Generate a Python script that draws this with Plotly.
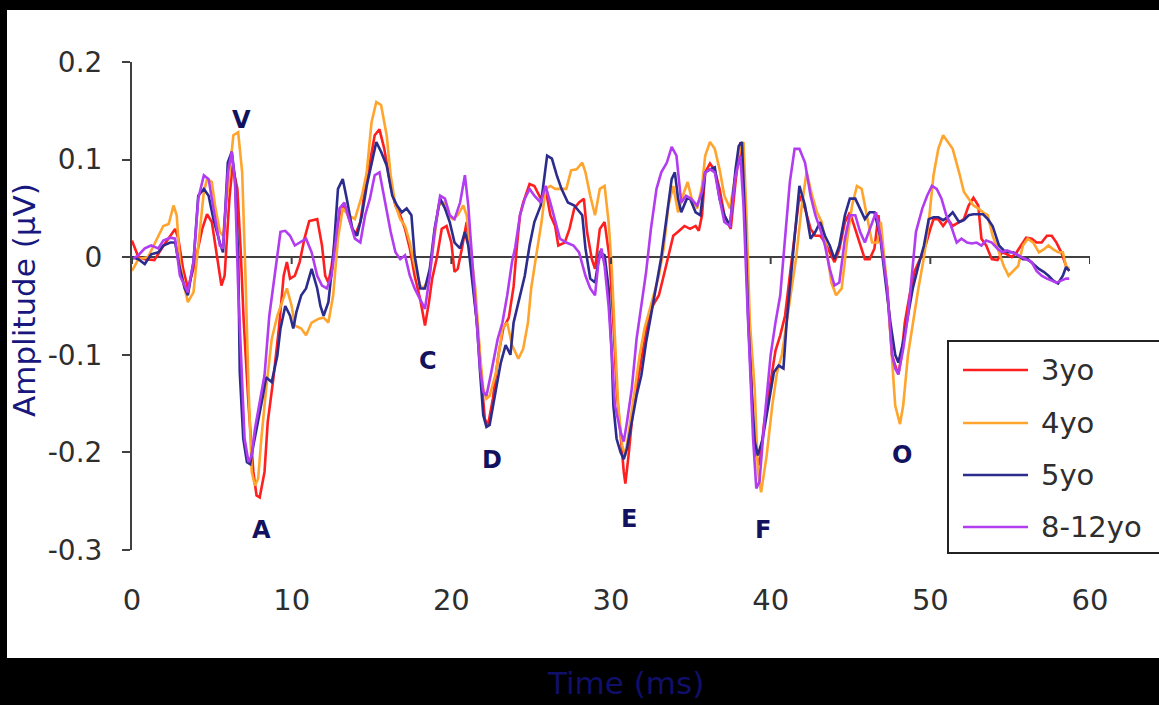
import plotly.graph_objects as go

# ---------------- data ----------------
series_names = ["3yo", "4yo", "5yo", "8-12yo"]
series_colors = ["#ff1f1f", "#ffa42c", "#2c2c8e", "#b23cef"]

t_3yo = [0, 0.4, 0.8, 1.4, 1.9, 2.3, 2.7, 2.9, 3.2, 3.5, 3.9, 4.4, 4.7, 5.0, 5.3, 5.6, 5.8, 6.1, 6.3, 6.6,
         6.8, 7.0, 7.3, 7.6, 7.8, 8.0, 8.3, 8.5, 8.85, 9.2, 9.5, 9.7, 9.9, 10.2, 10.5, 10.8, 11.1, 11.6, 11.9, 12.1,
         12.3, 12.5, 12.7, 13.0, 13.3, 13.65, 13.96, 14.3, 14.6, 14.9, 15.2, 15.5, 15.8, 16.2, 16.5, 16.8, 17.1, 17.4, 17.7, 18.05,
         18.35, 18.6, 18.8, 19.1, 19.4, 19.7, 20.0, 20.2, 20.4, 20.65, 20.96, 21.2, 21.4, 21.7, 21.9, 22.1, 22.3, 22.6, 22.95, 23.25,
         23.6, 23.9, 24.1, 24.3, 24.5, 24.9, 25.2, 25.6, 25.9, 26.2, 26.5, 26.7, 27.1, 27.4, 27.7, 28.0, 28.3, 28.5, 28.8, 29.0,
         29.3, 29.6, 29.9, 30.15, 30.35, 30.6, 30.8, 30.9, 31.1, 31.4, 31.7, 32.0, 32.3, 32.6, 33.0, 33.3, 33.6, 33.9, 34.2, 34.6,
         34.95, 35.3, 35.5, 35.7, 35.9, 36.2, 36.5, 36.8, 37.1, 37.5, 37.8, 38.1, 38.3, 38.5, 38.7, 38.9, 39.1, 39.3, 39.6, 40.0,
         40.3, 40.6, 40.9, 41.2, 41.5, 41.8, 42.15, 42.5, 42.8, 43.1, 43.4, 43.7, 44.0, 44.3, 44.65, 44.96, 45.3, 45.6, 45.9, 46.2,
         46.5, 46.75, 46.9, 47.3, 47.6, 47.8, 48.0, 48.2, 48.4, 48.7, 49.0, 49.4, 49.7, 50.0, 50.2, 50.5, 50.8, 51.1, 51.4, 51.8,
         52.1, 52.4, 52.7, 53.0, 53.2, 53.5, 53.85, 54.2, 54.5, 54.8, 55.1, 55.4, 55.7, 56.0, 56.35, 56.65, 56.97, 57.3, 57.6, 57.9,
         58.2, 58.5, 58.7]
amp_3yo = [0.017, 0.0, -0.002, -0.003, 0.01, 0.02, 0.029, 0.019, -0.012, -0.032, -0.009, 0.029, 0.044, 0.036, 0.002, -0.029, -0.019, 0.06, 0.094, 0.07,
           0.009, -0.067, -0.152, -0.22, -0.244, -0.246, -0.22, -0.169, -0.125, -0.073, -0.019, -0.005, -0.022, -0.019, -0.005, 0.019, 0.037, 0.039, 0.012, -0.019,
           -0.026, -0.009, 0.015, 0.043, 0.053, 0.036, 0.022, 0.036, 0.07, 0.097, 0.125, 0.131, 0.111, 0.073, 0.053, 0.043, 0.029, 0.009, -0.019, -0.043,
           -0.07, -0.046, -0.022, 0.0, 0.029, 0.032, 0.015, -0.015, -0.012, 0.008, 0.036, 0.002, -0.032, -0.084, -0.128, -0.166, -0.172, -0.145, -0.1, -0.073,
           -0.062, -0.03, 0.01, 0.043, 0.056, 0.075, 0.073, 0.06, 0.07, 0.043, 0.032, 0.012, 0.015, 0.029, 0.05, 0.056, 0.06, 0.026, -0.002, -0.012,
           0.029, 0.036, 0.0, -0.067, -0.135, -0.186, -0.22, -0.232, -0.203, -0.152, -0.125, -0.094, -0.067, -0.05, -0.039, -0.019, 0.0, 0.022, 0.026, 0.032,
           0.029, 0.032, 0.027, 0.043, 0.087, 0.096, 0.089, 0.07, 0.043, 0.029, 0.077, 0.118, 0.07, -0.015, -0.1, -0.169, -0.203, -0.213, -0.169, -0.128,
           -0.096, -0.08, -0.06, -0.019, 0.022, 0.063, 0.05, 0.029, 0.022, 0.022, 0.015, 0.005, -0.005, 0.008, 0.036, 0.046, 0.029, 0.012, -0.002, -0.002,
           0.009, 0.043, 0.019, -0.032, -0.1, -0.111, -0.12, -0.1, -0.067, -0.039, -0.015, 0.0, 0.012, 0.029, 0.039, 0.039, 0.032, 0.039, 0.032, 0.036,
           0.039, 0.053, 0.061, 0.053, 0.019, 0.012, -0.002, -0.003, 0.005, 0.003, 0.0, 0.005, 0.012, 0.02, 0.019, 0.015, 0.015, 0.022, 0.022, 0.015,
           0.005, -0.009, -0.014]

t_4yo = [0, 0.4, 1.0, 1.65, 1.96, 2.3, 2.6, 2.8, 3.0, 3.3, 3.5, 3.85, 4.15, 4.5, 4.7, 5.0, 5.2, 5.5, 5.7, 6.0,
         6.35, 6.65, 6.9, 7.1, 7.3, 7.5, 7.7, 7.9, 8.1, 8.4, 8.75, 9.1, 9.4, 9.7, 10.0, 10.2, 10.6, 10.9, 11.25, 11.7,
         12.0, 12.3, 12.6, 12.9, 13.2, 13.55, 13.96, 14.4, 14.7, 15.0, 15.3, 15.6, 15.95, 16.2, 16.5, 16.8, 17.1, 17.4, 17.7, 18.05,
         18.25, 18.6, 18.9, 19.2, 19.5, 19.8, 20.1, 20.4, 20.75, 20.96, 21.2, 21.5, 21.8, 22.0, 22.2, 22.4, 22.8, 23.2, 23.5, 23.8,
         24.2, 24.5, 24.8, 25.0, 25.3, 25.65, 25.9, 26.2, 26.5, 26.8, 27.2, 27.5, 27.85, 28.2, 28.4, 28.7, 29.0, 29.3, 29.6, 29.85,
         30.05, 30.25, 30.45, 30.7, 30.9, 31.2, 31.5, 31.8, 32.1, 32.5, 33.0, 33.3, 33.6, 33.9, 34.2, 34.5, 34.8, 35.05, 35.4, 35.7,
         35.9, 36.2, 36.5, 36.8, 37.1, 37.45, 37.8, 38.1, 38.3, 38.5, 38.7, 39.0, 39.2, 39.4, 39.75, 40.1, 40.4, 40.7, 41.0, 41.3,
         41.6, 41.95, 42.25, 42.6, 42.9, 43.2, 43.5, 43.8, 44.1, 44.45, 44.8, 45.1, 45.4, 45.7, 46.0, 46.35, 46.7, 46.9, 47.3, 47.5,
         47.8, 48.1, 48.3, 48.6, 48.9, 49.25, 49.6, 49.9, 50.2, 50.5, 50.8, 51.1, 51.4, 51.8, 52.1, 52.4, 52.7, 53.0, 53.3, 53.6,
         53.9, 54.3, 54.6, 54.9, 55.2, 55.5, 55.8, 56.1, 56.45, 56.8, 57.1, 57.4, 57.7, 58.0, 58.3, 58.5, 58.7]
amp_4yo = [-0.014, -0.002, 0.0, 0.022, 0.032, 0.034, 0.053, 0.043, -0.005, -0.032, -0.046, -0.036, 0.009, 0.067, 0.08, 0.077, 0.053, 0.026, 0.022, 0.07,
           0.125, 0.128, 0.087, -0.015, -0.135, -0.22, -0.234, -0.227, -0.186, -0.135, -0.084, -0.06, -0.046, -0.032, -0.05, -0.07, -0.073, -0.08, -0.067, -0.063,
           -0.062, -0.067, -0.039, 0.019, 0.05, 0.043, 0.039, 0.063, 0.087, 0.138, 0.159, 0.156, 0.125, 0.084, 0.053, 0.039, 0.032, 0.015, -0.009, -0.029,
           -0.032, -0.022, 0.015, 0.053, 0.056, 0.043, 0.039, 0.043, 0.053, 0.043, 0.009, -0.032, -0.1, -0.135, -0.145, -0.142, -0.118, -0.073, -0.067, -0.09,
           -0.104, -0.094, -0.067, -0.032, 0.0, 0.036, 0.07, 0.073, 0.07, 0.07, 0.07, 0.089, 0.09, 0.097, 0.087, 0.063, 0.043, 0.07, 0.073, 0.036,
           -0.012, -0.084, -0.152, -0.193, -0.203, -0.169, -0.135, -0.1, -0.073, -0.05, -0.019, 0.009, 0.053, 0.073, 0.046, 0.063, 0.077, 0.06, 0.05, 0.073,
           0.104, 0.118, 0.111, 0.09, 0.063, 0.05, 0.084, 0.114, 0.118, 0.036, -0.067, -0.135, -0.22, -0.241, -0.203, -0.152, -0.118, -0.1, -0.067, -0.032,
           0.0, 0.053, 0.087, 0.063, 0.046, 0.036, 0.008, -0.026, -0.039, -0.032, 0.019, 0.053, 0.073, 0.07, 0.043, 0.015, 0.015, 0.036, -0.032, -0.084,
           -0.152, -0.171, -0.152, -0.1, -0.067, -0.032, 0.0, 0.036, 0.084, 0.111, 0.125, 0.118, 0.111, 0.087, 0.067, 0.06, 0.053, 0.05, 0.046, 0.043,
           0.022, 0.005, -0.009, -0.019, -0.014, -0.009, 0.012, 0.019, 0.015, 0.005, 0.008, 0.012, 0.008, 0.005, 0.005, -0.009, -0.012]

t_5yo = [0, 0.4, 0.8, 1.2, 1.65, 1.96, 2.4, 2.7, 3.0, 3.3, 3.5, 3.85, 4.15, 4.5, 4.8, 5.1, 5.5, 5.7, 6.0, 6.25,
         6.45, 6.65, 6.75, 6.97, 7.2, 7.4, 7.6, 7.9, 8.2, 8.4, 8.75, 9.1, 9.3, 9.6, 9.9, 10.1, 10.3, 10.6, 10.9, 11.25,
         11.6, 11.8, 12.0, 12.3, 12.6, 12.9, 13.2, 13.45, 13.8, 14.1, 14.4, 14.7, 15.0, 15.3, 15.6, 15.95, 16.3, 16.6, 16.9, 17.2,
         17.5, 17.7, 18.05, 18.35, 18.65, 18.95, 19.3, 19.6, 19.9, 20.2, 20.55, 20.85, 21.06, 21.3, 21.6, 21.8, 22.0, 22.2, 22.4, 22.8,
         23.1, 23.4, 23.7, 23.9, 24.2, 24.6, 24.9, 25.2, 25.6, 25.8, 26.0, 26.3, 26.6, 26.9, 27.3, 27.7, 28.2, 28.4, 28.7, 29.0,
         29.3, 29.6, 29.85, 30.05, 30.15, 30.35, 30.6, 30.8, 31.0, 31.3, 31.6, 31.9, 32.2, 32.5, 32.8, 33.15, 33.5, 33.8, 34.0, 34.2,
         34.4, 34.75, 34.95, 35.3, 35.6, 35.9, 36.2, 36.5, 36.8, 37.1, 37.45, 37.8, 38.0, 38.2, 38.4, 38.6, 38.8, 39.0, 39.2, 39.5,
         39.85, 40.2, 40.5, 40.8, 41.0, 41.3, 41.5, 41.8, 42.15, 42.5, 42.8, 43.1, 43.4, 43.7, 44.0, 44.3, 44.65, 44.96, 45.3, 45.6,
         45.9, 46.2, 46.5, 46.85, 47.15, 47.5, 47.8, 48.0, 48.3, 48.6, 48.9, 49.25, 49.6, 49.9, 50.2, 50.5, 50.8, 51.1, 51.4, 51.8,
         52.1, 52.4, 52.7, 53.0, 53.3, 53.6, 53.9, 54.3, 54.6, 54.9, 55.2, 55.5, 55.8, 56.1, 56.45, 56.8, 57.1, 57.4, 57.7, 58.0,
         58.3, 58.5, 58.7]
amp_5yo = [0.0, -0.002, -0.007, 0.003, 0.005, 0.012, 0.015, 0.015, -0.012, -0.032, -0.039, -0.005, 0.063, 0.07, 0.063, 0.039, 0.015, 0.005, 0.097, 0.108,
           0.08, 0.002, -0.118, -0.186, -0.21, -0.212, -0.193, -0.169, -0.142, -0.123, -0.128, -0.101, -0.073, -0.05, -0.06, -0.073, -0.056, -0.039, -0.032, -0.012,
           -0.032, -0.05, -0.06, -0.046, 0.0, 0.07, 0.08, 0.06, 0.029, 0.022, 0.043, 0.073, 0.097, 0.118, 0.108, 0.094, 0.063, 0.053, 0.046, 0.05,
           0.043, 0.002, -0.032, -0.032, -0.012, 0.029, 0.06, 0.05, 0.036, 0.015, 0.009, 0.026, 0.012, -0.026, -0.067, -0.118, -0.162, -0.174, -0.172, -0.135,
           -0.108, -0.09, -0.1, -0.067, -0.045, -0.019, 0.012, 0.036, 0.053, 0.077, 0.104, 0.101, 0.084, 0.07, 0.056, 0.053, 0.043, 0.009, -0.022, -0.026,
           0.005, 0.002, -0.032, -0.1, -0.152, -0.186, -0.2, -0.207, -0.196, -0.169, -0.142, -0.121, -0.087, -0.06, -0.032, 0.0, 0.043, 0.08, 0.087, 0.06,
           0.046, 0.06, 0.06, 0.046, 0.043, 0.087, 0.09, 0.092, 0.06, 0.043, 0.032, 0.09, 0.114, 0.118, 0.036, -0.067, -0.135, -0.189, -0.203, -0.186,
           -0.152, -0.118, -0.111, -0.114, -0.067, -0.015, 0.026, 0.073, 0.053, 0.019, 0.026, 0.036, 0.022, 0.012, -0.002, 0.012, 0.043, 0.06, 0.06, 0.05,
           0.039, 0.046, 0.046, 0.022, -0.019, -0.067, -0.1, -0.108, -0.087, -0.06, -0.032, -0.009, 0.012, 0.039, 0.041, 0.041, 0.038, 0.041, 0.046, 0.036,
           0.038, 0.043, 0.044, 0.044, 0.044, 0.039, 0.032, 0.012, 0.007, 0.005, 0.005, 0.002, -0.002, -0.002, -0.007, -0.012, -0.015, -0.019, -0.024, -0.027,
           -0.019, -0.01, -0.014]

t_8_12yo = [0, 0.4, 0.8, 1.2, 1.65, 1.96, 2.4, 2.7, 3.0, 3.3, 3.5, 3.85, 4.15, 4.5, 4.8, 5.1, 5.5, 5.7, 6.0, 6.25,
            6.45, 6.65, 6.85, 7.05, 7.3, 7.5, 7.7, 8.0, 8.3, 8.6, 8.95, 9.3, 9.6, 9.9, 10.2, 10.5, 10.9, 11.25, 11.6, 11.9,
            12.2, 12.5, 12.8, 13.0, 13.3, 13.65, 13.96, 14.3, 14.6, 14.9, 15.2, 15.5, 15.8, 16.2, 16.5, 16.8, 17.1, 17.4, 17.7, 18.05,
            18.35, 18.65, 18.95, 19.3, 19.6, 19.9, 20.2, 20.55, 20.85, 21.06, 21.3, 21.6, 21.8, 22.0, 22.2, 22.5, 22.9, 23.2, 23.5, 23.8,
            24.0, 24.3, 24.6, 24.9, 25.2, 25.6, 25.9, 26.2, 26.5, 26.8, 27.2, 27.65, 28.0, 28.4, 28.7, 29.0, 29.2, 29.4, 29.6, 29.85,
            30.05, 30.25, 30.6, 30.8, 31.0, 31.3, 31.6, 31.9, 32.2, 32.5, 32.85, 33.15, 33.5, 33.8, 34.1, 34.4, 34.7, 35.0, 35.4, 35.7,
            35.9, 36.2, 36.5, 36.8, 37.1, 37.45, 37.8, 38.1, 38.3, 38.5, 38.7, 38.9, 39.1, 39.3, 39.6, 40.0, 40.3, 40.6, 40.8, 41.0,
            41.2, 41.5, 41.8, 42.15, 42.5, 42.8, 43.1, 43.4, 43.7, 44.0, 44.3, 44.65, 44.96, 45.3, 45.6, 45.9, 46.2, 46.6, 46.9, 47.3,
            47.6, 47.8, 48.0, 48.3, 48.6, 48.9, 49.1, 49.5, 49.8, 50.1, 50.4, 50.7, 51.0, 51.3, 51.65, 51.95, 52.3, 52.6, 52.9, 53.2,
            53.5, 53.85, 54.2, 54.5, 54.8, 55.1, 55.4, 55.7, 56.0, 56.35, 56.65, 56.97, 57.3, 57.6, 57.9, 58.2, 58.5, 58.7]
amp_8_12yo = [-0.002, 0.002, 0.009, 0.012, 0.009, 0.017, 0.02, 0.019, -0.019, -0.029, -0.036, -0.005, 0.06, 0.084, 0.08, 0.05, 0.012, 0.009, 0.087, 0.108,
              0.077, -0.032, -0.118, -0.186, -0.21, -0.203, -0.176, -0.149, -0.121, -0.06, -0.019, 0.026, 0.027, 0.022, 0.012, 0.015, 0.019, 0.005, -0.019, -0.029,
              -0.032, -0.019, 0.022, 0.05, 0.056, 0.036, 0.019, 0.015, 0.043, 0.06, 0.084, 0.087, 0.06, 0.026, 0.005, -0.002, 0.002, -0.019, -0.032, -0.043,
              -0.053, -0.019, 0.026, 0.063, 0.06, 0.043, 0.039, 0.056, 0.084, 0.053, 0.002, -0.067, -0.114, -0.138, -0.142, -0.118, -0.084, -0.067, -0.039, -0.005,
              0.01, 0.043, 0.06, 0.07, 0.063, 0.056, 0.073, 0.056, 0.036, 0.019, 0.015, 0.012, 0.005, -0.019, -0.032, -0.039, -0.007, 0.009, -0.009, -0.05,
              -0.1, -0.152, -0.179, -0.189, -0.169, -0.135, -0.084, -0.05, -0.015, 0.029, 0.07, 0.087, 0.097, 0.113, 0.104, 0.056, 0.063, 0.06, 0.053, 0.067,
              0.087, 0.09, 0.087, 0.06, 0.036, 0.032, 0.084, 0.104, 0.053, -0.032, -0.118, -0.186, -0.237, -0.23, -0.169, -0.1, -0.067, -0.039, 0.0, 0.036,
              0.077, 0.111, 0.111, 0.097, 0.063, 0.043, 0.029, 0.012, -0.012, -0.029, -0.026, 0.019, 0.043, 0.043, 0.026, 0.015, 0.029, 0.046, 0.019, -0.032,
              -0.1, -0.114, -0.12, -0.094, -0.06, -0.012, 0.026, 0.05, 0.063, 0.073, 0.07, 0.06, 0.043, 0.032, 0.015, 0.019, 0.015, 0.014, 0.015, 0.012,
              0.017, 0.015, 0.009, 0.005, 0.007, 0.005, 0.003, 0.0, -0.002, -0.005, -0.014, -0.019, -0.022, -0.024, -0.026, -0.024, -0.022, -0.022]

# peak labels
peak_labels = ["V", "A", "C", "D", "E", "F", "O"]
peak_t = [6.83, 8.14, 18.54, 22.55, 31.13, 39.52, 48.2]
peak_amp = [0.141, -0.279, -0.106, -0.208, -0.268, -0.280, -0.203]

# axis ticks
x_tick_vals = [0, 10, 20, 30, 40, 50, 60]
x_tick_text = ["0", "10", "20", "30", "40", "50", "60"]
y_tick_vals = [0.2, 0.1, 0, -0.1, -0.2, -0.3]
y_tick_text = ["0.2", "0.1", "0", "-0.1", "-0.2", "-0.3"]

x_title = "Time (ms)"
y_title = "Amplitude (\u03bcV)"

# ---------------- figure ----------------
W, H = 1159, 705
ML, MR, MT, MB = 132, 69, 62, 155
PW, PH = W - ML - MR, H - MT - MB


def px_to_paper_x(px):
    return (px - ML) / PW


def py_to_paper_y(py):
    return (H - MB - py) / PH


FONT = "DejaVu Sans"
TITLE_COLOR = "#17177e"
LABEL_COLOR = "#12125e"
AXIS_COLOR = "#404040"
TEXT_COLOR = "#2e2e2e"

all_t = [t_3yo, t_4yo, t_5yo, t_8_12yo]
all_amp = [amp_3yo, amp_4yo, amp_5yo, amp_8_12yo]

fig = go.Figure()
for name, color, tt, aa in zip(series_names, series_colors, all_t, all_amp):
    fig.add_trace(go.Scatter(x=tt, y=aa, mode="lines", name=name,
                             line=dict(color=color, width=2.6), showlegend=False))

shapes = []
# white chart area on black page
shapes.append(dict(type="rect", xref="paper", yref="paper", layer="below",
                   x0=px_to_paper_x(7), x1=px_to_paper_x(1175),
                   y0=py_to_paper_y(658), y1=py_to_paper_y(10),
                   fillcolor="white", line=dict(width=0)))
# tick marks on the zero line
for xv in x_tick_vals:
    shapes.append(dict(type="line", xref="x", yref="y", x0=xv, x1=xv, y0=0, y1=-0.007,
                       line=dict(color=AXIS_COLOR, width=2)))

# manual legend (box, samples, labels)
leg_rows_py = [370, 423, 475, 527]
shapes.append(dict(type="rect", xref="paper", yref="paper",
                   x0=px_to_paper_x(948), x1=px_to_paper_x(1180),
                   y0=py_to_paper_y(553), y1=py_to_paper_y(341),
                   fillcolor="white", line=dict(color="#222222", width=2)))
annotations = []
for name, color, rpy in zip(series_names, series_colors, leg_rows_py):
    shapes.append(dict(type="line", xref="paper", yref="paper",
                       x0=px_to_paper_x(963), x1=px_to_paper_x(1028),
                       y0=py_to_paper_y(rpy), y1=py_to_paper_y(rpy),
                       line=dict(color=color, width=2.6)))
    annotations.append(dict(xref="paper", yref="paper", x=px_to_paper_x(1039), y=py_to_paper_y(rpy),
                            text=name, showarrow=False, xanchor="left", yanchor="middle",
                            font=dict(family=FONT, size=29, color=TEXT_COLOR)))

# peak labels
for lab, tx, ay in zip(peak_labels, peak_t, peak_amp):
    annotations.append(dict(x=tx, y=ay, xref="x", yref="y", text="<b>" + lab + "</b>",
                            showarrow=False, xanchor="center", yanchor="middle",
                            font=dict(family=FONT, size=24, color=LABEL_COLOR)))

# axis titles
annotations.append(dict(xref="paper", yref="paper", x=px_to_paper_x(24), y=py_to_paper_y(300),
                        text=y_title, textangle=-90, showarrow=False,
                        xanchor="center", yanchor="middle",
                        font=dict(family=FONT, size=31, color=TITLE_COLOR)))
annotations.append(dict(xref="paper", yref="paper", x=px_to_paper_x(625), y=py_to_paper_y(683),
                        text=x_title, showarrow=False, xanchor="center", yanchor="middle",
                        font=dict(family=FONT, size=31, color="#10106a")))

fig.update_layout(
    width=W, height=H,
    margin=dict(l=ML, r=MR, t=MT, b=MB, pad=0),
    paper_bgcolor="black",
    plot_bgcolor="rgba(0,0,0,0)",
    showlegend=False,
    shapes=shapes,
    annotations=annotations,
    xaxis=dict(range=[0, 60], tickvals=x_tick_vals, ticktext=x_tick_text,
               showline=False, showgrid=False, zeroline=False, ticks="",
               ticklabelstandoff=30,
               tickfont=dict(family=FONT, size=29, color=TEXT_COLOR)),
    yaxis=dict(range=[-0.3, 0.2], tickvals=y_tick_vals, ticktext=y_tick_text,
               showline=True, linecolor=AXIS_COLOR, linewidth=2,
               ticks="outside", ticklen=8, tickwidth=2, tickcolor=AXIS_COLOR,
               ticklabelstandoff=14,
               showgrid=False, zeroline=True, zerolinecolor=AXIS_COLOR, zerolinewidth=2,
               tickfont=dict(family=FONT, size=28, color=TEXT_COLOR)),
)

fig.write_html(
    "out.html",
    config={"displayModeBar": False},
    post_script="document.body.style.margin='0';document.body.style.background='black';",
)
